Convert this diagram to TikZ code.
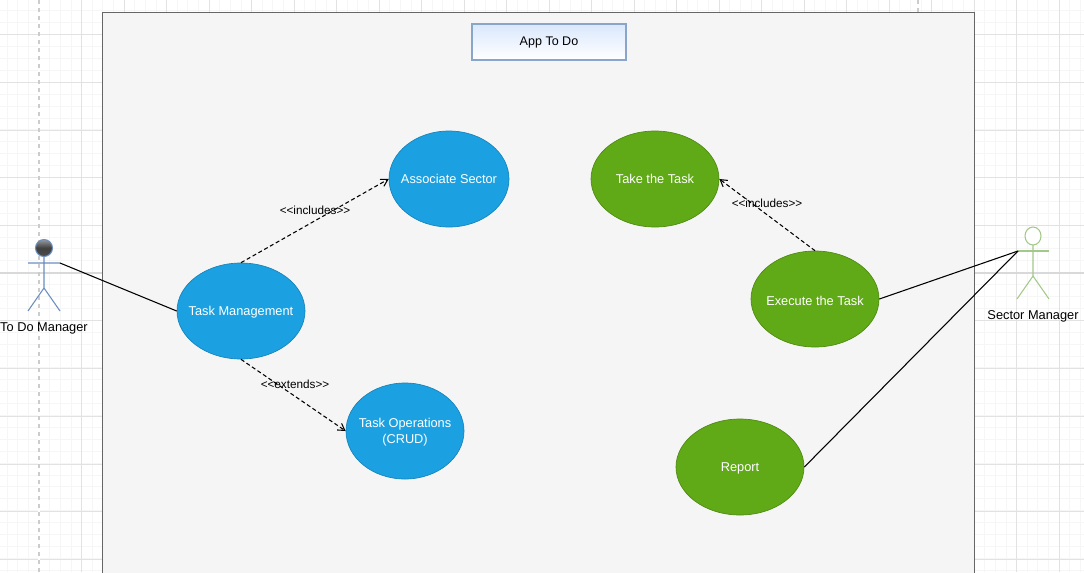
\documentclass[tikz,border=0pt]{standalone}
\usepackage{fontspec}
\newfontfamily\lab{Liberation Sans}
\usetikzlibrary{arrows.meta,shapes.geometric}
\definecolor{frameg}{HTML}{666666}
\definecolor{framef}{HTML}{F5F5F5}
\definecolor{ublue}{HTML}{1BA1E2}
\definecolor{ublued}{HTML}{1583BA}
\definecolor{ugreen}{HTML}{60A917}
\definecolor{ugreend}{HTML}{4F8A12}
\definecolor{majorg}{HTML}{E2E2E2}
\definecolor{minorg}{HTML}{F6F6F6}
\definecolor{actblue}{HTML}{6C8EBF}
\definecolor{actgreen}{HTML}{A3C98A}
\definecolor{titlef}{HTML}{DAE8FC}
\tikzset{
  x=0.75pt,y=-0.75pt,
  every node/.style={font=\lab\fontsize{9.6pt}{12pt}\selectfont},
  usecase/.style={ellipse,minimum width=#1*0.75pt,minimum height=96*0.75pt,inner sep=0pt,line width=0.5pt},
  bluecase/.style={usecase=#1,draw=ublued,fill=ublue},
  greencase/.style={usecase=#1,draw=ugreend,fill=ugreen},
  caselabel/.style={text=white,align=center,inner sep=0pt,yshift=-1.1pt},
  rel/.style={black,line width=0.8pt,densely dashed,-{Straight Barb[length=5pt,width=6pt]}},
  assoc/.style={black,line width=0.8pt},
  edgelabel/.style={text=black,inner sep=0pt,font=\lab\fontsize{8.8pt}{10pt}\selectfont},
  actorlabel/.style={text=black,inner sep=0pt,yshift=-1.1pt},
  actorb/.style={actblue,line width=0.8pt},
  actorg/.style={actgreen,line width=0.8pt},
}
\begin{document}
\begin{tikzpicture}
\useasboundingbox (0,0) rectangle (1084,572);
\fill[white] (0,0) rectangle (1084,572);
% grid
\foreach \i in {0,...,107} \draw[minorg,line width=0.5pt] ({-3.5+\i*10.625},0) -- ({-3.5+\i*10.625},572);
\foreach \i in {0,...,50} \draw[minorg,line width=0.5pt] (0,{-13+\i*11.9}) -- (1084,{-13+\i*11.9});
\foreach \i in {0,...,25} \draw[majorg,line width=0.7pt] ({-3.5+\i*42.5},0) -- ({-3.5+\i*42.5},572);
\foreach \i in {0,...,12} \draw[majorg,line width=0.7pt] (0,{-13+\i*47.7}) -- (1084,{-13+\i*47.7});
\draw[black!15,line width=1.1pt] (0,273) -- (1084,273);
\draw[white,line width=1.2pt] (39,0) -- (39,572);
\draw[black!20,line width=0.8pt,dashed] (39,0) -- (39,572);
\draw[white,line width=1.2pt] (918,0) -- (918,12);
\draw[black!20,line width=0.8pt,dashed] (918,0) -- (918,12);
% frame
\node[draw=frameg,fill=framef,line width=1.1pt,inner sep=0pt,minimum width=872*0.75pt,minimum height=580*0.75pt,anchor=north west] (frame) at (102,12) {};
% title
\node[draw=actblue!80!white,top color=titlef,bottom color=white,line width=0.9pt,inner sep=0pt,minimum width=154*0.75pt,minimum height=36*0.75pt,text=black,font=\lab\fontsize{9.4pt}{12pt}\selectfont] (title) at (549,42) {\raisebox{-1.1pt}{App To Do}};
% use cases
\node[bluecase=128] (tm) at (241,311) {};
\node[caselabel] (tmt) at (241,311) {Task Management};
\node[bluecase=120] (as) at (449,179) {};
\node[caselabel] (ast) at (449,177.5) {Associate Sector};
\node[bluecase=118] (ops) at (405,431) {};
\node[caselabel] (opst) at (405,431) {Task Operations\\(CRUD)};
\node[greencase=128] (take) at (655,179) {};
\node[caselabel] (taket) at (655,177.5) {Take the Task};
\node[greencase=128] (exec) at (815,299) {};
\node[caselabel] (exect) at (815,299) {Execute the Task};
\node[greencase=128] (rep) at (740,467) {};
\node[caselabel] (rept) at (740,467) {Report};
% actor 1
\coordinate (a1hand) at (60,263);
\coordinate (a1l) at (28,263);
\coordinate (a1neck) at (44,257);
\coordinate (a1hip) at (44,288);
\coordinate (a1lf) at (28,311);
\coordinate (a1rf) at (60,311);
\draw[actblue,line width=0.8pt,top color=black!40,bottom color=black!70,middle color=black!75] (44,248) circle (8.5);
\draw[actorb] (a1neck) -- (a1hip) (a1l) -- (a1hand) (a1lf) -- (a1hip) -- (a1rf);
\node[actorlabel] (a1label) at (44,327) {To Do Manager};
% actor 2
\coordinate (a2hand) at (1049,251);
\coordinate (a2l) at (1018,251);
\coordinate (a2neck) at (1033,245);
\coordinate (a2hip) at (1033,276);
\coordinate (a2lf) at (1017,299);
\coordinate (a2rf) at (1049,299);
\draw[actorg,fill=white] (1033,236) ellipse (8 and 9);
\draw[actorg] (a2neck) -- (a2hip) (a2lf) -- (a2hip) -- (a2rf);
\draw[actgreen,line width=2.2pt] (a2l) -- (a2hand);
\node[actorlabel] (a2label) at (1033,315) {Sector Manager};
% connectors
\draw[assoc] (a1hand) -- (tm.west);
\draw[assoc] (exec.east) -- (a2l);
\draw[assoc] (rep.east) -- (a2l);
\draw[rel] (tm.north) -- (as.west);
\draw[rel] (tm.south) -- (ops.west);
\draw[rel] (exec.north) -- (take.east);
% labels
\node[edgelabel] (l1) at (315,210) {<<includes>>};
\node[edgelabel] (l2) at (295,384) {<<extends>>};
\node[edgelabel] (l3) at (767,203) {<<includes>>};
\end{tikzpicture}
\end{document}
